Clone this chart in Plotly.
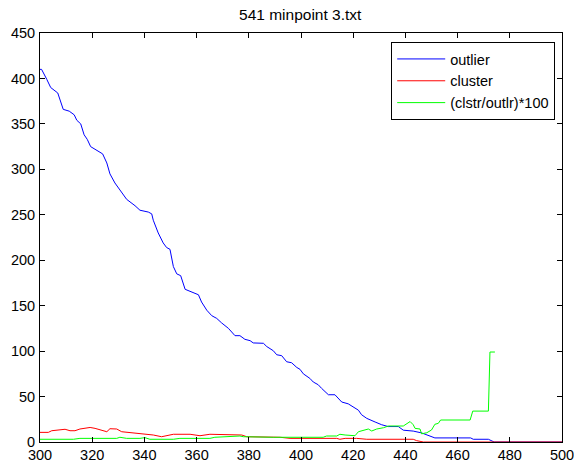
import plotly.graph_objects as go

# outlier series (blue)
outlier_x = [300, 300.6, 302.6, 304.1, 306.8, 308.9, 311.2, 313.1, 314.1, 315.6, 316.9, 318.1, 319.4,
             321.7, 324, 325.6, 326.8, 328.7, 330.7, 333.2, 336.4, 338.3, 341.5, 342.8, 343.4, 345.3,
             347.2, 348.5, 349.8, 351.1, 352.4, 353.9, 355.6, 357.5, 360.7, 361.9, 363.9, 365.8, 367.7,
             369.6, 372.2, 374.7, 376.6, 378.5, 380.5, 381.7, 385.6, 386.9, 389.4, 390.7, 392.6, 394.5,
             396.4, 398.4, 399.6, 400.9,
             403.4, 404.7, 406.6, 407.9, 409.2, 410.5, 413, 414.3, 415.6, 418.1, 420, 422, 423.2, 425.2,
             428.4, 430.9, 433.4, 437.3, 439.2, 443, 446.2, 448.2, 450, 451.3, 465, 466, 471.8, 474, 500]
outlier_y = [410, 410, 399, 390, 384, 366, 364, 360, 354, 350, 338, 333, 325,
             321, 317, 307, 295, 285, 277, 267, 260, 255, 253, 251, 244, 230,
             219, 214, 212, 193, 185, 183, 168, 166, 162, 154, 145, 139, 136,
             131, 125, 117, 117, 113, 111.5, 109, 108.6, 105, 100.4, 96, 95, 88.3,
             87.2, 82, 80, 75,
             70, 66, 63, 59, 55, 52, 52, 48, 44, 42, 39, 35, 30, 26,
             22, 19, 17, 17, 13, 12, 10, 8, 6, 4.5, 4.5, 3, 3, 0, 0]

# cluster series (red)
cluster_x = [300, 303.2, 304.5, 307.7, 309.6, 311.5, 313.4, 315.3, 319.2, 321.1, 323, 325.6, 326.8,
             329.4, 331.3, 334.5, 338.3, 340.2, 343.4, 346.6, 349.2, 351.1, 357.5, 361.3, 365.1, 369,
             376.6, 377.3, 379.2, 392, 395.8, 413.7, 414.9, 416.9, 421.3, 425.2, 443, 444.3, 446.9, 500]
cluster_y = [10.6, 10.6, 12.4, 13.2, 14, 12.4, 12.4, 14.3, 16, 15, 13.2, 11.3, 14.6,
             14.3, 11.3, 10.2, 9.6, 8.5, 7.7, 5.8, 6.9, 8.5, 8.5, 6.9, 8.5, 8.5,
             8.5, 7.7, 5.8, 5.2, 4, 4, 3, 4, 4, 3, 3, 1.5, 0, 0]

# ratio series (green)
ratio_x = [300, 312.8, 315.3, 329.4, 330.6, 333.2, 338.3, 340.2, 342.1, 351.1, 353.6, 361.3, 363.9,
           365.1, 367, 369.6, 376.6, 377.9, 389.4, 408.5, 409.8, 413.7, 414.9, 416.9, 420.7, 422,
           424.5, 425.8, 427.1, 429, 431.6, 433.5, 439.2, 441.8, 443, 443.7, 445.6, 446.2, 448.2,
           450, 451.3, 452.6, 453.5, 464.8, 465.8, 471.8, 472.4, 474.3]
ratio_y = [3, 3, 4, 4, 5.2, 4, 4, 4.8, 3, 3, 4, 4, 4.8,
           4, 5.2, 5.8, 6.6, 5.8, 5.2, 5.2, 6.6, 6.6, 8.5, 7.7, 6.9, 11.3,
           13.2, 14.3, 12.1, 14.3, 15.7, 17.6, 17.6, 22.5, 19, 15, 14.3, 9, 10.2,
           13.2, 19.5, 20.5, 24.2, 24.2, 34, 34, 99, 99]

x_ticks = [300, 320, 340, 360, 380, 400, 420, 440, 460, 480, 500]
y_ticks = [0, 50, 100, 150, 200, 250, 300, 350, 400, 450]

fig = go.Figure()
fig.add_trace(go.Scatter(x=outlier_x, y=outlier_y, mode="lines", name="outlier",
                         line=dict(color="#0000ff", width=1)))
fig.add_trace(go.Scatter(x=cluster_x, y=cluster_y, mode="lines", name="cluster",
                         line=dict(color="#ff0000", width=1)))
fig.add_trace(go.Scatter(x=ratio_x, y=ratio_y, mode="lines", name="(clstr/outlr)*100",
                         line=dict(color="#00ff00", width=1)))

font_family = "Liberation Sans, Arial, sans-serif"
axis_common = dict(showline=True, linecolor="black", linewidth=1, mirror="ticks",
                   ticks="inside", ticklen=5, tickcolor="black", showgrid=False,
                   zeroline=False, automargin=False, ticklabeloverflow="allow",
                   tickfont=dict(family=font_family, size=14.5, color="black"))

fig.update_layout(
    width=574, height=465, autosize=False,
    margin=dict(l=40, r=12, t=33, b=23),
    paper_bgcolor="white", plot_bgcolor="white",
    title=dict(text="541 minpoint 3.txt", x=0.523, xanchor="center", y=0.969, yanchor="middle",
               font=dict(family=font_family, size=15.5, color="black")),
    xaxis=dict(range=[300, 500], tickvals=x_ticks, ticktext=[str(v) for v in x_ticks],
               **axis_common),
    yaxis=dict(range=[0, 450], tickvals=y_ticks, ticktext=[str(v) for v in y_ticks],
               ticklabelstandoff=1, **axis_common),
    legend=dict(x=0.987, xanchor="right", y=0.978, yanchor="top", bgcolor="white",
                bordercolor="black", borderwidth=1, tracegroupgap=0, itemwidth=48,
                font=dict(family=font_family, size=14.5, color="black")),
    showlegend=True,
)

fig.write_html("out.html", config={"displayModeBar": False},
               post_script="document.body.style.margin='0';document.body.style.overflow='hidden';")
